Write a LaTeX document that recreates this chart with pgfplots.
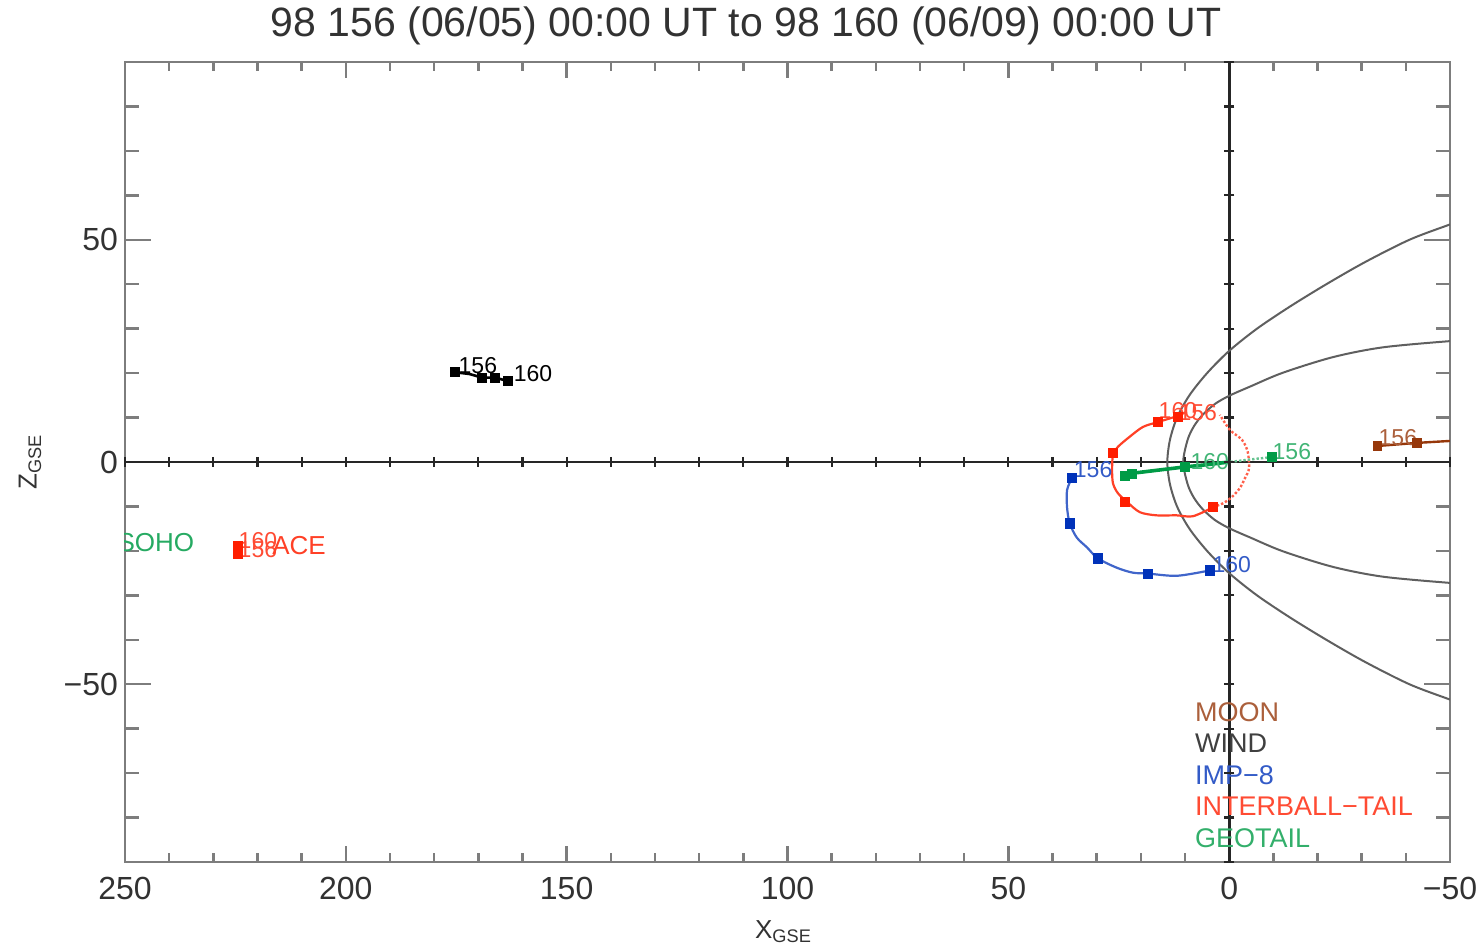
\documentclass[border=0pt]{standalone}
\usepackage{fontspec}
\setmainfont{Liberation Sans}
\usepackage{pgfplots}
\pgfplotsset{compat=1.18}

\definecolor{bndgray}{RGB}{95,95,95}
\definecolor{framegray}{RGB}{125,125,125}
\definecolor{ibred}{RGB}{255,30,0}
\definecolor{impblue}{RGB}{0,50,185}
\definecolor{geogreen}{RGB}{0,155,70}
\definecolor{moonbrown}{RGB}{150,55,10}
\definecolor{txtgray}{RGB}{50,50,50}

\begin{document}
\begin{tikzpicture}
\begin{axis}[
  at={(0,0)}, anchor=south west,
  width=662.5pt, height=400pt, scale only axis,
  xmin=-50, xmax=250, ymin=-90, ymax=90, x dir=reverse,
  xtick={-50,0,...,250}, xticklabels={−50,0,50,100,150,200,250},
  ytick={-50,0,50}, yticklabels={−50,0,50},
  minor xtick={-40,-30,...,240}, minor ytick={-80,-70,...,80},
  tick align=inside,
  major tick length=13pt, minor tick length=7pt,
  xtick style={/pgfplots/major tick length=8pt, /pgfplots/minor tick length=4.5pt},
  axis line style={framegray, line width=1.4pt},
  tick style={framegray, line width=1.2pt},
  tick label style={font=\fontsize{16}{16}\selectfont, text=txtgray},
  xticklabel style={yshift=-4pt},
  xlabel={X\textsubscript{GSE}}, ylabel={Z\textsubscript{GSE}},
  label style={font=\fontsize{13}{13}\selectfont, text=txtgray},
  xlabel style={at={(axis description cs:0.497,-0.087)}, anchor=center},
  ylabel style={at={(axis description cs:-0.0717,0.5)}, anchor=center},
  clip=true,
  every axis plot/.append style={mark options={solid}},
]

% axes through the origin, ticked every 10 Re
\addplot[black!85, line width=1.4pt, mark=|, mark size=2.6pt, mark options={line width=1.1pt}]
  coordinates {(250,0) (240,0) (230,0) (220,0) (210,0) (200,0) (190,0) (180,0) (170,0) (160,0)
               (150,0) (140,0) (130,0) (120,0) (110,0) (100,0) (90,0) (80,0) (70,0) (60,0)
               (50,0) (40,0) (30,0) (20,0) (10,0) (0,0) (-10,0) (-20,0) (-30,0) (-40,0) (-50,0)};
\addplot[black!85, line width=1.4pt, mark=-, mark size=2.6pt, mark options={line width=1.1pt}]
  coordinates {(0,-90) (0,-80) (0,-70) (0,-60) (0,-50) (0,-40) (0,-30) (0,-20) (0,-10) (0,0)
               (0,10) (0,20) (0,30) (0,40) (0,50) (0,60) (0,70) (0,80) (0,90)};

% bow shock
\addplot[bndgray, line width=1pt, smooth] coordinates {
  (-54.5,-55) (-49.3,-53.2) (-40.8,-50) (-30.8,-45) (-22.0,-40) (-13.8,-35) (-6.3,-30)
  (0.0,-25) (5.0,-20) (9.0,-15) (11.8,-10) (13.4,-5) (14.0,0) (13.4,5) (11.8,10) (9.0,15)
  (5.0,20) (0.0,25) (-6.3,30) (-13.8,35) (-22.0,40) (-30.8,45) (-40.8,50) (-49.3,53.2) (-54.5,55)};
% magnetopause
\addplot[bndgray, line width=1pt, smooth] coordinates {
  (-55,-27.4) (-50,-27.2) (-34.8,-25.8) (-23.5,-23.6) (-12.2,-20.1) (-4.8,-17.0) (0,-14.9)
  (3.3,-13.0) (6.1,-10.5) (8.0,-8.0) (9.4,-5.0) (10.4,0) (9.4,5.0) (8.0,8.0) (6.1,10.5)
  (3.3,13.0) (0,14.9) (-4.8,17.0) (-12.2,20.1) (-23.5,23.6) (-34.8,25.8) (-50,27.2) (-55,27.4)};

% WIND
\addplot[black, line width=1.3pt] coordinates {(175.3,20.2) (172,19.8) (169.2,19.0) (166.2,19.0) (163.3,18.2)};
\addplot[black, only marks, mark=square*, mark size=2.2pt] coordinates {(175.3,20.2) (169.2,19.0) (166.2,19.0) (163.3,18.2)};

% ACE
\addplot[ibred, line width=1.2pt] coordinates {(224.4,-19.0) (224.4,-20.6)};
\addplot[ibred, only marks, mark=square*, mark size=2.3pt] coordinates {(224.4,-19.0) (224.4,-20.6)};

% IMP-8
\addplot[impblue!75, line width=1.1pt, smooth] coordinates {
  (35.6,-3.6) (36.7,-6.3) (36.7,-10.2) (36.1,-13.8) (34.5,-17.0) (32.2,-19.2) (29.7,-21.7)
  (25.4,-23.8) (21.8,-24.9) (18.4,-25.1) (11.8,-25.6) (4.4,-24.4)};
\addplot[impblue, only marks, mark=square*, mark size=2.3pt] coordinates {
  (35.6,-3.6) (36.1,-13.8) (29.7,-21.7) (18.4,-25.1) (4.4,-24.4)};

% INTERBALL-TAIL
\addplot[ibred!85, line width=1.1pt, smooth] coordinates {
  (9.6,11.3) (12.2,10.2) (16.1,9.0) (19.5,7.9) (22.5,5.7) (25.2,3.4) (26.3,1.6) (26.5,-1.8)
  (26.3,-4.8) (25.2,-7.0) (23.1,-9.0) (20.2,-11.3) (16.4,-12.0) (11.9,-12.0) (8.2,-12.2) (3.7,-10.2)};
\addplot[ibred!70, line width=1.2pt, densely dotted, smooth] coordinates {
  (3.7,-10.2) (1.4,-9.3) (-0.6,-7.9) (-2.4,-5.9) (-3.6,-3.6) (-4.5,-1.4) (-4.2,2.3)
  (-2.9,5.0) (-0.2,7.2) (2.1,10.6)};
\addplot[ibred, only marks, mark=square*, mark size=2.3pt] coordinates {
  (26.3,2.0) (23.6,-9.0) (3.7,-10.1) (16.1,9.0) (11.6,10.1)};

% GEOTAIL
\addplot[geogreen!60, line width=1.2pt, densely dotted] coordinates {(-9.7,1.1) (-5,0.6) (0,0.0)};
\addplot[geogreen, line width=1.8pt] coordinates {(0,0.0) (5,-0.6) (10,-1.1) (15,-1.7) (20,-2.3) (24.3,-2.8)};
\addplot[geogreen, only marks, mark=square*, mark size=2.3pt] coordinates {
  (-9.7,1.1) (10.0,-1.1) (22.0,-2.7) (23.6,-3.2)};

% MOON
\addplot[moonbrown, line width=1.2pt] coordinates {(-33.5,3.6) (-42.5,4.3) (-49.3,4.7) (-55,5.0)};
\addplot[moonbrown, only marks, mark=square*, mark size=2.1pt] coordinates {(-33.5,3.6) (-42.5,4.3)};

% day-of-year and spacecraft labels
\begin{scope}[every node/.style={font=\fontsize{11.5}{11.5}\selectfont, inner sep=0pt}]
  \node[text=black] at (axis cs:170.1,21.6) {156};
  \node[text=black] at (axis cs:157.6,20.0) {160};
  \node[text=impblue!80] at (axis cs:30.8,-1.8) {156};
  \node[text=impblue!80] at (axis cs:-0.6,-23.0) {160};
  \node[text=ibred!80] at (axis cs:11.6,11.6) {160};
  \node[text=ibred!80] at (axis cs:7.1,11.2) {156};
  \node[text=geogreen!75] at (axis cs:-14.2,2.3) {156};
  \node[text=geogreen!75] at (axis cs:4.4,0.2) {160};
  \node[text=ibred!80] at (axis cs:219.9,-17.6) {160};
  \node[text=ibred!80] at (axis cs:219.9,-19.6) {156};
  \node[text=moonbrown!80] at (axis cs:-38.2,5.6) {156};
\end{scope}
\begin{scope}[every node/.style={font=\fontsize{13}{13}\selectfont, inner sep=0pt}]
  \node[text=geogreen!85] at (axis cs:243,-18.2) {SOHO};
  \node[text=ibred!85] at (axis cs:210.6,-18.9) {ACE};
\end{scope}

% legend
\begin{scope}[every node/.style={font=\fontsize{13.5}{13.5}\selectfont, inner sep=0pt, anchor=west}]
  \node[text=moonbrown!80] at (axis cs:7.8,-56.3) {MOON};
  \node[text=black!75] at (axis cs:7.8,-63.2) {WIND};
  \node[text=impblue!80] at (axis cs:7.8,-70.4) {IMP−8};
  \node[text=ibred!80] at (axis cs:7.8,-77.4) {INTERBALL−TAIL};
  \node[text=geogreen!80] at (axis cs:7.8,-84.6) {GEOTAIL};
\end{scope}
\end{axis}

\node[font=\fontsize{20.5}{20.5}\selectfont, text=txtgray] at (310.5pt,418pt)
  {98 156 (06/05) 00:00 UT to 98 160 (06/09) 00:00 UT};

\pgfresetboundingbox
\path[use as bounding box] (-62.5pt,-42.5pt) rectangle (677pt,431pt);
\end{tikzpicture}
\end{document}
